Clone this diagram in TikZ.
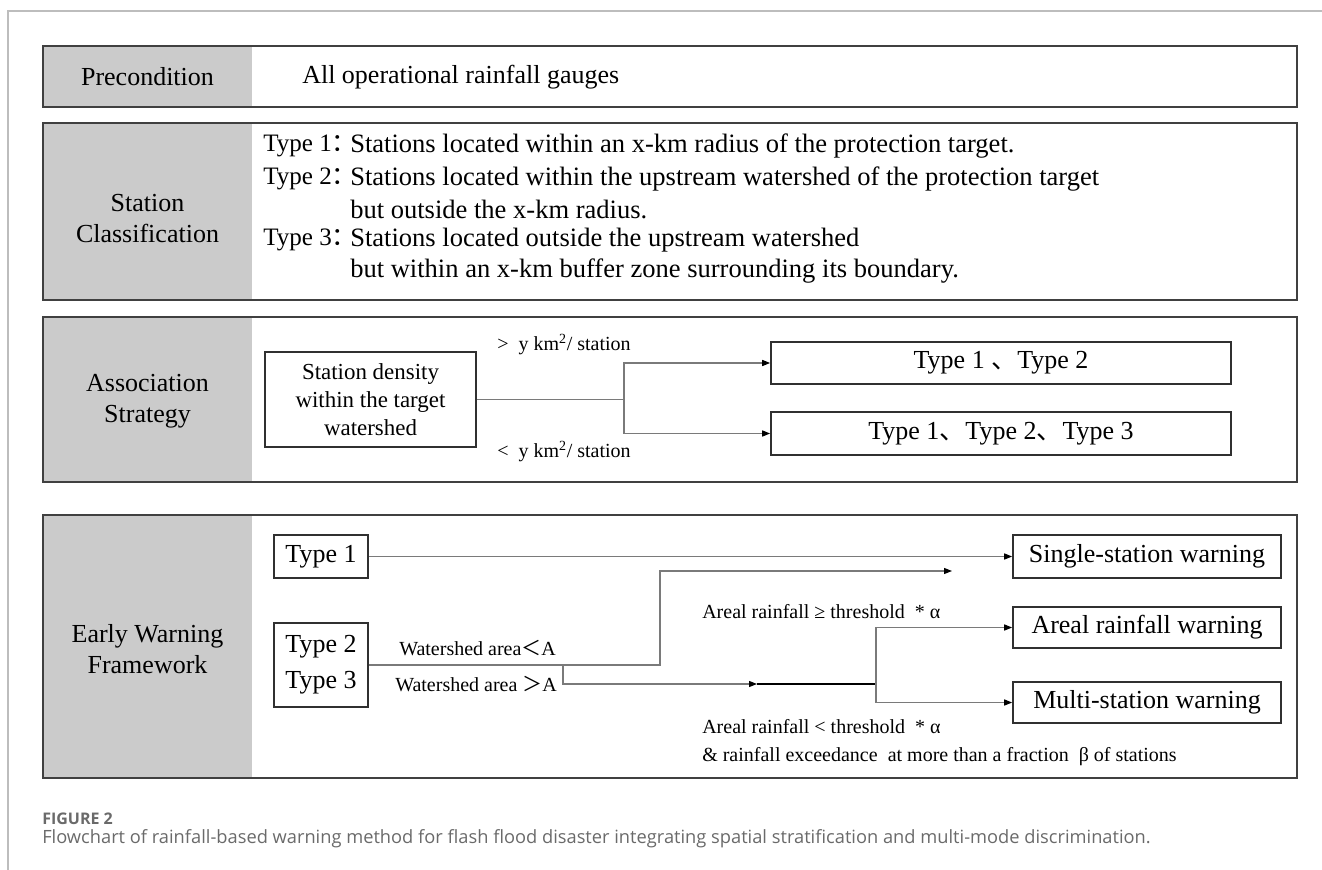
\documentclass[tikz,border=0pt]{standalone}
\usepackage{fontspec}
\setmainfont{Liberation Serif}
\newfontfamily\cjk{Noto Sans CJK SC}
\newfontfamily\capfont{Open Sans}
\usetikzlibrary{arrows.meta}
\definecolor{labelgray}{HTML}{CBCBCB}
\definecolor{panelline}{HTML}{404040}
\definecolor{boxline}{HTML}{303030}
\definecolor{connline}{HTML}{7A7A7A}
\definecolor{framegray}{HTML}{BDBDBD}
\definecolor{capgray}{HTML}{6A6A6A}
\newcommand\fmain{\fontsize{19.5pt}{23.25pt}\selectfont}
\newcommand\fbody{\fontsize{19.9pt}{23.25pt}\selectfont}
\newcommand\fkey{\fontsize{18.8pt}{22pt}\selectfont}
\newcommand\fmid{\fontsize{17.2pt}{21pt}\selectfont}
\newcommand\fsmall{\fontsize{15pt}{18pt}\selectfont}
\newcommand\fcolon{\makebox[0.42em][l]{\cjk ：}}
\begin{document}
\begin{tikzpicture}[x=0.75pt,y=-0.75pt,
  pxbox/.style 2 args={minimum width=#1*0.75pt, minimum height=#2*0.75pt},
  labelcell/.style={fill=labelgray, inner sep=0pt, outer sep=0pt},
  panel/.style={draw=panelline, line width=1.4pt, inner sep=0pt},
  labeltext/.style={font=\fmain, align=center, inner sep=0pt},
  body/.style={font=\fbody, anchor=west, inner sep=0pt},
  keytext/.style={font=\fkey, anchor=west, inner sep=0pt},
  small/.style={font=\fsmall, anchor=west, inner sep=0pt},
  box/.style={draw=boxline, line width=1.2pt, inner sep=0pt, font=\fmain, align=center},
  conn/.style={draw=connline, line width=0.9pt},
  tip/.style={-{Triangle[length=6pt,width=4.5pt,color=black]}}
]
\useasboundingbox (0,0) rectangle (1322,870);
% outer frame
\draw[framegray, line width=1.1pt] (8,870) -- (8,11) -- (1322,11);

% ---------- panels ----------
\node[labelcell, pxbox={209}{61}] (c1) at (147.5,76.5) {};
\node[panel, pxbox={1254}{61}] (p1) at (670,76.5) {};
\node[labelcell, pxbox={209}{177}] (c2) at (147.5,211.5) {};
\node[panel, pxbox={1254}{177}] (p2) at (670,211.5) {};
\node[labelcell, pxbox={209}{165}] (c3) at (147.5,399.5) {};
\node[panel, pxbox={1254}{165}] (p3) at (670,399.5) {};
\node[labelcell, pxbox={209}{263}] (c4) at (147.5,646.5) {};
\node[panel, pxbox={1254}{263}] (p4) at (670,646.5) {};

\node[labeltext] (l1) at (147.5,77) {Precondition};
\node[labeltext] (l2) at (147.5,219) {Station\\Classification};
\node[labeltext] (l3) at (147.5,401) {Association\\Strategy};
\node[labeltext] (l4) at (147.5,649) {Early Warning\\Framework};

% ---------- precondition ----------
\node[body, font=\fmain] (pre) at (302,77) {All operational rainfall gauges};

% ---------- classification ----------
\node[keytext] (k1) at (263,146) {Type 1\fcolon};
\node[body] (d1) at (350,146) {Stations located within an x-km radius of the protection target.};
\node[keytext] (k2) at (263,179) {Type 2\fcolon};
\node[body] (d2) at (350,179) {Stations located within the upstream watershed of the protection target};
\node[body] (d2b) at (350,209) {but outside the x-km radius.};
\node[keytext] (k3) at (263,240) {Type 3\fcolon};
\node[body] (d3) at (350,240) {Stations located outside the upstream watershed};
\node[body] (d3b) at (350,271) {but within an x-km buffer zone surrounding its boundary.};

% ---------- association ----------
\node[box, pxbox={211}{95}, font=\fmid] (dens) at (370.5,399.5)
  {Station density\\within the target\\watershed};
\node[box, pxbox={460}{42}] (t12) at (1001,363) {Type 1 {\cjk 、}Type 2};
\node[box, pxbox={460}{43}] (t123) at (1001,433.5) {Type 1{\cjk 、}Type 2{\cjk 、}Type 3};
\coordinate (j1) at (624,399.5);
\draw[conn] (dens.east) -- (j1);
\draw[conn, tip] (j1) |- (t12.west);
\draw[conn, tip] (j1) |- (t123.west);
\node[small] (gt) at (497,345) {>\enspace y km\textsuperscript{2}/ station};
\node[small] (lt) at (497,452) {<\enspace y km\textsuperscript{2}/ station};

% ---------- early warning ----------
\node[box, pxbox={94}{43}] (ty1) at (321,556.5) {Type 1};
\node[box, pxbox={94}{84}, font=\fontsize{19.5pt}{27pt}\selectfont] (ty23) at (321,665) {Type 2\\Type 3};
\node[box, pxbox={268}{43}] (sw) at (1147,556.5) {Single-station warning};
\node[box, pxbox={268}{41}] (aw) at (1147,627.5) {Areal rainfall warning};
\node[box, pxbox={268}{41}] (mw) at (1147,702.5) {Multi-station warning};

\draw[conn, tip] (ty1.east) -- (sw.west);
\coordinate (b1) at (660,665);
\coordinate (e1) at (952,571);
\draw[conn, tip] (ty23.east) -- (b1) |- (e1);
\coordinate (b2) at (563,665);
\coordinate (m2) at (757,684);
\coordinate (j2) at (876,684);
\draw[conn, tip] (b2) |- (m2);
\draw[draw=black, line width=0.9pt] (m2) -- (j2);
\draw[conn, tip] (j2) |- (aw.west);
\draw[conn, tip] (j2) |- (mw.west);

\node[small] (wl) at (399,648) {Watershed area{\cjk ＜}A};
\node[small] (wg) at (395,684) {Watershed area {\cjk ＞}A};
\node[small] (ar1) at (702,612) {Areal rainfall ≥ threshold \ * α};
\node[small] (ar2) at (702,727) {Areal rainfall < threshold \ * α};
\node[small] (ar3) at (702,757) {\& rainfall exceedance \ at more than a fraction \ β of stations};

% ---------- caption ----------
\node[anchor=west, inner sep=0pt, font=\capfont\bfseries\fontsize{12pt}{14pt}\selectfont, text=capgray] (fig) at (42,819) {FIGURE 2};
\node[anchor=west, inner sep=0pt, font=\capfont\fontsize{13.7pt}{16pt}\selectfont, text=capgray] (cap) at (42,839) {Flowchart of rainfall-based warning method for flash flood disaster integrating spatial stratification and multi-mode discrimination.};
\end{tikzpicture}
\end{document}
